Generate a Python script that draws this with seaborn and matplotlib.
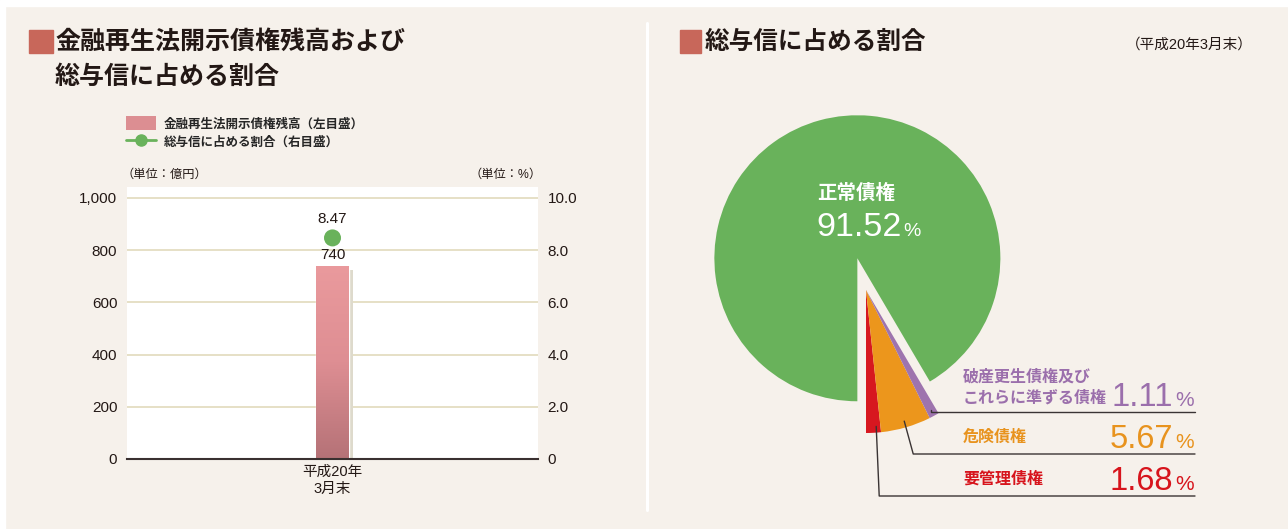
import numpy as np
import matplotlib
matplotlib.use("Agg")
import matplotlib.pyplot as plt
import matplotlib.patheffects as pe
from matplotlib.patches import Rectangle, Patch
from matplotlib.lines import Line2D
from matplotlib.colors import LinearSegmentedColormap
import seaborn as sns

# ---------------- data ----------------
categories = ['平成20年\n3月末']
balance = [740]          # 億円 (left axis)
ratio = [8.47]           # % (right axis)
left_ticks = [0, 200, 400, 600, 800, 1000]
right_ticks = [0, 2.0, 4.0, 6.0, 8.0, 10.0]

pie_labels = ['要管理債権', '危険債権', '破産更生債権及び\nこれらに準ずる債権', '正常債権']
pie_values = [1.68, 5.67, 1.11, 91.52]
pie_colors = ['#D7171F', '#EC961C', '#9E74AE', '#69B25B']
text_colors = ['#D7141C', '#E8931E', '#9B6FAC', '#FFFFFF']

# ---------------- style ----------------
sns.set_theme(style='white')
plt.rcParams['font.family'] = ['Liberation Sans', 'Noto Sans CJK JP', 'DejaVu Sans']
BG = '#F6F1EB'
DARK = '#231815'
W, H = 1288, 529

fig = plt.figure(figsize=(W / 100, H / 100), dpi=100, facecolor=BG)

def fx(px):
    return px / W

def fy(py):
    return 1 - py / H

# white frame strips (top / left) and separator
fig.patches.append(Rectangle((0, fy(6)), 1, 6 / H, transform=fig.transFigure, color='white', zorder=0))
fig.patches.append(Rectangle((0, 0), 5 / W, 1, transform=fig.transFigure, color='white', zorder=0))
fig.add_artist(Line2D([fx(647), fx(647)], [fy(23), fy(510)], transform=fig.transFigure, color='white', lw=2.2))

# ---------------- titles ----------------
SQ = '#C8675A'
fig.patches.append(Rectangle((fx(29), fy(53)), 24 / W, 23 / H, transform=fig.transFigure, color=SQ))
fig.text(fx(55), fy(43), '金融再生法開示債権残高および', fontsize=18, fontweight='bold', color=DARK, va='center', ha='left')
fig.text(fx(55), fy(77), '総与信に占める割合', fontsize=18, fontweight='bold', color=DARK, va='center', ha='left')

fig.patches.append(Rectangle((fx(680), fy(53)), 21 / W, 23 / H, transform=fig.transFigure, color=SQ))
fig.text(fx(705), fy(42), '総与信に占める割合', fontsize=17.7, fontweight='bold', color=DARK, va='center', ha='left')
fig.text(fx(1253), fy(45), '（平成20年3月末）', fontsize=10.5, color=DARK, va='center', ha='right')

# ---------------- bar chart ----------------
ax = fig.add_axes([fx(127), fy(459), 411 / W, 272 / H])
ax.set_facecolor('white')
sns.barplot(x=categories, y=balance, ax=ax, color='#D88A8E', width=0.078, saturation=1)
ax.set_xlim(-0.5, 0.5)
ax.set_ylim(0, 1042)
bar = ax.patches[0]
bar.set_path_effects([pe.SimplePatchShadow(offset=(3, -3), shadow_rgbFace='#DEDACC', alpha=1), pe.Normal()])
# vertical gradient inside the bar
cmap = LinearSegmentedColormap.from_list('barg', ['#B57277', '#DE8E93', '#EA9A9D'])
bx, bw = bar.get_x(), bar.get_width()
grad = np.linspace(0, 1, 256).reshape(-1, 1)
im = ax.imshow(grad, cmap=cmap, origin='lower', aspect='auto',
               extent=[bx, bx + bw, 0, bar.get_height()], zorder=bar.get_zorder() + 0.1)
im.set_clip_path(bar)
ax.set_xlim(-0.5, 0.5)
ax.set_ylim(0, 1042)

ax.set_yticks(left_ticks)
ax.set_yticklabels([f'{v:,}' for v in left_ticks])
ax.grid(axis='y', color='#E4DDC2', lw=1.3)
ax.set_axisbelow(True)
for s in ['top', 'left', 'right']:
    ax.spines[s].set_visible(False)
ax.spines['bottom'].set_color('#3A3030')
ax.spines['bottom'].set_linewidth(1.5)
ax.spines['bottom'].set_zorder(5)
ax.tick_params(axis='y', length=0, pad=7, labelsize=11, labelcolor=DARK)
ax.tick_params(axis='x', length=0, pad=4, labelsize=10.5, labelcolor=DARK)
for lab in ax.get_xticklabels():
    lab.set_linespacing(1.3)
ax.set_xlabel('')
ax.set_ylabel('')
ax.text(0, balance[0] + 14, f'{balance[0]}', ha='center', va='bottom', fontsize=11, color=DARK)

ax2 = ax.twinx()
sns.scatterplot(x=np.arange(len(categories)), y=ratio, ax=ax2, color='#69B25B', s=150, edgecolor='none', legend=False, zorder=6)
ax2.set_ylim(0, 10.42)
ax2.set_xlim(-0.5, 0.5)
ax2.set_yticks(right_ticks)
ax2.set_yticklabels(['0' if v == 0 else f'{v:.1f}' for v in right_ticks])
ax2.tick_params(axis='y', length=0, pad=7, labelsize=11, labelcolor=DARK)
for s in ['top', 'left', 'right', 'bottom']:
    ax2.spines[s].set_visible(False)
ax2.set_ylabel('')
ax2.text(0, ratio[0] + 0.45, f'{ratio[0]:.2f}', ha='center', va='bottom', fontsize=11, color=DARK)

# units
fig.text(fx(121), fy(175), '（単位：億円）', fontsize=8.8, color=DARK, va='center', ha='left')
fig.text(fx(542), fy(175), '（単位：%）', fontsize=8.8, color=DARK, va='center', ha='right')

# legend
handles = [Patch(facecolor='#DC8E92', edgecolor='none'),
           Line2D([], [], color='#69B25B', marker='o', markersize=8, lw=2)]
labels = ['金融再生法開示債権残高（左目盛）', '総与信に占める割合（右目盛）']
fig.legend(handles, labels, loc='upper left', bbox_to_anchor=(fx(126), fy(116)), frameon=False,
           borderpad=0, borderaxespad=0, handlelength=2.4, handleheight=1.4,
           handletextpad=0.6, labelspacing=0.3, prop={'weight': 'bold', 'size': 9.0})

# ---------------- pie ----------------
R = 143.0
cx, cy = 866, 290
L = 1.6
pax = fig.add_axes([fx(cx - L * R), fy(cy + L * R), 2 * L * R / W, 2 * L * R / H])
explode = [0, 0, 0, 0.23]
wedges, _ = pax.pie(pie_values, colors=pie_colors, startangle=270, counterclock=True,
                    explode=explode, radius=1, wedgeprops=dict(linewidth=0))
pax.set_xlim(-L, L)
pax.set_ylim(-L, L)
pax.set_aspect('equal')
pax.axis('off')

def d(px, py):
    return ((px - cx) / R, (cy - py) / R)

# major slice label
x0, y0 = d(817, 193)
pax.text(x0, y0, pie_labels[3], color='white', fontsize=14, fontweight='bold', ha='left', va='center')
x1, y1 = d(902, 236)
pax.text(x1, y1, f'{pie_values[3]:.2f}', color='white', fontsize=24.5, ha='right', va='baseline')
pax.text(x1 + 0.01, y1, '%', color='white', fontsize=14, ha='left', va='baseline')

# small slices: leader lines + labels
levels = [496, 454, 412]          # pixel y of horizontal rule
elbow_dx = [3, 9, 0]              # pixel x shift of the elbow
lab_y = [[479], [437], [377, 398]]
num_base = [490, 448, 406]
x_end = d(1195, 0)[0]
for i in range(3):
    w = wedges[i]
    mid = np.deg2rad((w.theta1 + w.theta2) / 2)
    sx, sy = 0.955 * np.cos(mid), 0.955 * np.sin(mid)
    if i == 0:
        sx += 3 / R
    ly = d(0, levels[i])[1]
    ex = sx + elbow_dx[i] / R
    pax.plot([sx, ex, x_end], [sy, ly, ly], color='#3A3434', lw=1.0, clip_on=False, zorder=5)
    parts = pie_labels[i].split('\n')
    for part, py in zip(parts, lab_y[i]):
        tx, ty = d(963, py)
        pax.text(tx, ty, part, color=text_colors[i], fontsize=11.5, fontweight='bold',
                 ha='left', va='center', clip_on=False)
    nx, ny = d(1173, num_base[i])
    pax.text(nx, ny, f'{pie_values[i]:.2f}', color=text_colors[i], fontsize=23.5,
             ha='right', va='baseline', clip_on=False)
    pax.text(nx + 0.015, ny, '%', color=text_colors[i], fontsize=15,
             ha='left', va='baseline', clip_on=False)

fig.savefig('out.png', dpi=100, facecolor=BG)
